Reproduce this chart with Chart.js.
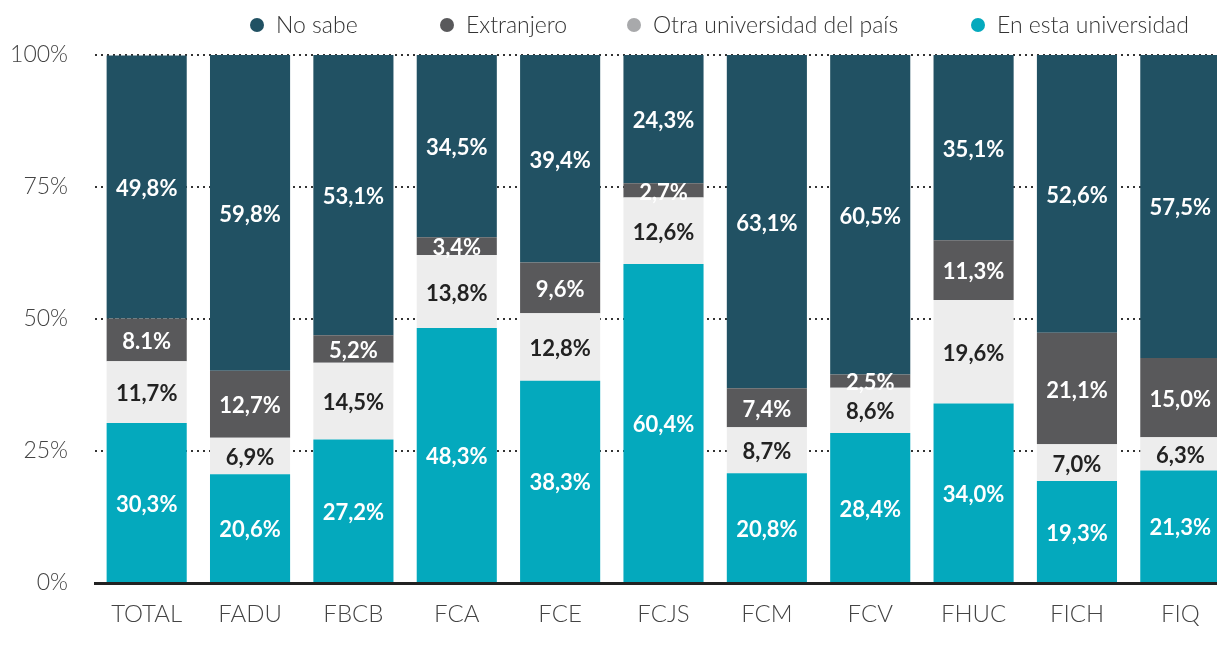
<!DOCTYPE html>
<html>
<head>
<meta charset="utf-8">
<script src="https://cdn.jsdelivr.net/npm/chart.js@4"></script>
<style>
  html, body { margin: 0; padding: 0; background: #fff; }
  #wrap { position: relative; width: 1217px; height: 650px; overflow: hidden; }
  #leyenda { position: absolute; top: 0; left: 0; width: 1217px; height: 48px; }
  .item { position: absolute; top: 10px; font: 300 23px Lato, sans-serif; color: #333; white-space: nowrap; line-height: 28px; }
  .item span { display: inline-block; width: 14px; height: 14px; border-radius: 50%; margin-right: 12px; vertical-align: 1px; }
</style>
</head>
<body>
<div id="wrap">
  <canvas id="myChart" width="1232" height="650"></canvas>
  <div id="leyenda"></div>
</div>
<script>
const facultades = ['TOTAL', 'FADU', 'FBCB', 'FCA', 'FCE', 'FCJS', 'FCM', 'FCV', 'FHUC', 'FICH', 'FIQ']
const enEsta = [30.3, 20.6, 27.2, 48.3, 38.3, 60.4, 20.8, 28.4, 34.0, 19.3, 21.3]
const otraUniv = [11.7, 6.9, 14.5, 13.8, 12.8, 12.6, 8.7, 8.6, 19.6, 7.0, 6.3]
const extranjero = [8.1, 12.7, 5.2, 3.4, 9.6, 2.7, 7.4, 2.5, 11.3, 21.1, 15.0]
const noSabe = [49.8, 59.8, 53.1, 34.5, 39.4, 24.3, 63.1, 60.5, 35.1, 52.6, 57.5]
const ticksY = [0, 25, 50, 75, 100]

const series = [
    { label: 'En esta universidad', data: enEsta, color: '#04a9bd', legend: '#04a9bd', texto: '#ffffff' },
    { label: 'Otra universidad del país', data: otraUniv, color: '#ededed', legend: '#a8a9ab', texto: '#222222' },
    { label: 'Extranjero', data: extranjero, color: '#59595b', legend: '#59595b', texto: '#ffffff' },
    { label: 'No sabe', data: noSabe, color: '#215163', legend: '#215163', texto: '#ffffff' }
]

// leyenda (orden inverso al apilado)
const posLeyenda = { 'No sabe': 250, 'Extranjero': 440, 'Otra universidad del país': 627, 'En esta universidad': 971 }
const leyenda = document.getElementById('leyenda')
series.slice().reverse().forEach(s => {
    let d = document.createElement('div')
    d.className = 'item'
    d.style.left = posLeyenda[s.label] + 'px'
    d.innerHTML = '<span style="background:' + s.legend + '"></span>' + s.label
    leyenda.appendChild(d)
})

function formato(v, serie, i) {
    // en el original el TOTAL de Extranjero aparece con punto
    if (serie === 'Extranjero' && facultades[i] === 'TOTAL') return v.toFixed(1) + '%'
    return v.toFixed(1).replace('.', ',') + '%'
}

const etiquetas = {
    id: 'etiquetas',
    afterDraw(chart) {
        const ctx = chart.ctx
        ctx.save()
        ctx.font = 'bold 22px Lato, sans-serif'
        ctx.textAlign = 'center'
        ctx.textBaseline = 'middle'
        chart.data.datasets.forEach((ds, di) => {
            chart.getDatasetMeta(di).data.forEach((bar, i) => {
                ctx.fillStyle = series[di].texto
                ctx.fillText(formato(ds.data[i], ds.label, i), bar.x, (bar.y + bar.base) / 2 + 2)
            })
        })
        ctx.restore()
    }
}

const ctx = document.getElementById('myChart')

new Chart(ctx, {
    type: 'bar',
    data: {
        labels: facultades,
        datasets: series.map(s => ({
            label: s.label,
            data: s.data,
            backgroundColor: s.color,
            borderWidth: 0,
            categoryPercentage: 1,
            barPercentage: 0.775
        }))
    },
    options: {
        responsive: false,
        animation: false,
        devicePixelRatio: 1,
        layout: { padding: { top: 55, left: 0, right: 0, bottom: 0 } },
        plugins: {
            legend: { display: false },
            tooltip: { enabled: false }
        },
        scales: {
            x: {
                stacked: true,
                z: 1,
                grid: { display: false, drawTicks: false },
                border: { display: true, color: '#222', width: 3 },
                ticks: { color: '#444', font: { family: 'Lato', weight: '300', size: 24 }, padding: 17 },
                afterFit: s => { s.height = 67 }
            },
            y: {
                stacked: true,
                min: 0,
                max: 100,
                z: 1,
                afterBuildTicks: s => { s.ticks = ticksY.map(v => ({ value: v })) },
                grid: {
                    drawTicks: false,
                    color: c => c.tick.value === 0 ? 'rgba(0,0,0,0)' : '#333',
                    lineWidth: 2,
                    borderDash: [2, 4]
                },
                border: { display: false, dash: [2, 4] },
                ticks: {
                    color: '#444',
                    font: { family: 'Lato', weight: '300', size: 23 },
                    padding: 27,
                    callback: v => v + '%'
                },
                afterFit: s => { s.width = 95 }
            }
        }
    },
    plugins: [etiquetas]
});
</script>
</body>
</html>
